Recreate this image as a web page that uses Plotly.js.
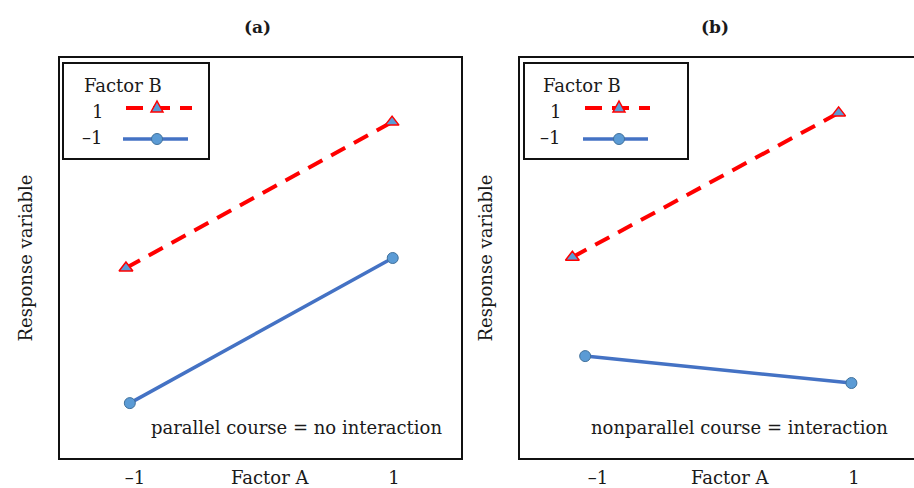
<!DOCTYPE html>
<html>
<head>
<meta charset="utf-8">
<script src="https://cdn.plot.ly/plotly-3.0.1.min.js"></script>
<style>
  html, body { margin: 0; padding: 0; background: #fff; }
  #chart { width: 914px; height: 488px; }
</style>
</head>
<body>
<div id="chart"></div>
<script>
// Levels of factor A shown on the horizontal axes
const factorALevels = [-1, 1];
const factorALabels = ['\u20131', '1'];

// Panel (a): parallel course
const aHighX = [-1.07, 0.985];
const aHighY = [47.5, 83.8];
const aLowX = [-1.04, 0.99];
const aLowY = [13.9, 50.0];

// Panel (b): nonparallel course
const bHighX = [-1.20, 0.88];
const bHighY = [50.2, 86.1];
const bLowX = [-1.10, 0.98];
const bLowY = [25.6, 18.9];

// Factor B legend entries
const legendTitle = 'Factor B';
const legendLabels = ['1', '\u20131'];

const W = 914, H = 488;
const FONT = 'DejaVu Serif, serif';
const RED = '#FF0000';
const BLUE = '#4472C4';
const MARKER_FILL = '#5B9BD5';
const INK = '#1a1a1a';

// pixel -> paper helpers (figure has zero margins)
const px = v => v / W;
const py = v => 1 - v / H;

function highTrace(x, y, xa, ya) {
  return {
    x: x, y: y, xaxis: xa, yaxis: ya, type: 'scatter', mode: 'lines+markers',
    line: { color: RED, width: 4, dash: '16px,10px' },
    marker: { symbol: 'triangle-up', size: 12, color: MARKER_FILL, line: { color: RED, width: 1.5 } },
    showlegend: false, hoverinfo: 'skip'
  };
}
function lowTrace(x, y, xa, ya) {
  return {
    x: x, y: y, xaxis: xa, yaxis: ya, type: 'scatter', mode: 'lines+markers',
    line: { color: BLUE, width: 3.5 },
    marker: { symbol: 'circle', size: 11, color: MARKER_FILL, line: { color: '#41719C', width: 1 } },
    showlegend: false, hoverinfo: 'skip'
  };
}

const data = [
  highTrace(aHighX, aHighY, 'x', 'y'),
  lowTrace(aLowX, aLowY, 'x', 'y'),
  highTrace(bHighX, bHighY, 'x2', 'y2'),
  lowTrace(bLowX, bLowY, 'x2', 'y2')
];

const yDomain = [29 / H, 431 / H];

function xAxis(domain, range) {
  return {
    domain: domain, range: range, showgrid: false, zeroline: false, showline: false,
    ticks: '', tickmode: 'array', tickvals: factorALevels, ticktext: factorALabels,
    tickfont: { family: FONT, size: 18, color: INK }, ticklabelstandoff: 6,
    fixedrange: true
  };
}
function yAxis(anchor, title) {
  return {
    domain: yDomain, range: [0, 100], anchor: anchor, showgrid: false, zeroline: false,
    showline: false, showticklabels: false, ticks: '', fixedrange: true,
    title: { text: title, font: { family: FONT, size: 18, color: INK }, standoff: 20 }
  };
}

// Hand-built Factor B legend: box, dashed/solid keys with their markers
function legendShapes(box, redLine, blueLine, keyX) {
  return [
    { type: 'rect', xref: 'paper', yref: 'paper', x0: px(box[0]), x1: px(box[1]), y0: py(box[2]), y1: py(box[3]),
      line: { color: '#111', width: 2 }, fillcolor: 'rgba(0,0,0,0)' },
    { type: 'line', xref: 'paper', yref: 'paper', x0: px(redLine[0]), x1: px(redLine[1]), y0: py(108), y1: py(108),
      line: { color: RED, width: 4, dash: '17px,10px' } },
    { type: 'path', xref: 'paper', yref: 'paper',
      path: `M ${px(keyX - 6)} ${py(112)} L ${px(keyX + 6)} ${py(112)} L ${px(keyX)} ${py(101)} Z`,
      fillcolor: MARKER_FILL, line: { color: RED, width: 1.5 } },
    { type: 'line', xref: 'paper', yref: 'paper', x0: px(blueLine[0]), x1: px(blueLine[1]), y0: py(139), y1: py(139),
      line: { color: BLUE, width: 3.5 } },
    { type: 'circle', xref: 'paper', yref: 'paper',
      x0: px(keyX - 5.5), x1: px(keyX + 5.5), y0: py(139 + 5.5), y1: py(139 - 5.5),
      fillcolor: MARKER_FILL, line: { color: '#41719C', width: 1 } }
  ];
}

// Frames around each panel (the right panel runs past the page edge)
const shapes = [
  { type: 'rect', xref: 'x domain', yref: 'y domain', x0: 0, x1: 1, y0: 0, y1: 1,
    line: { color: '#111', width: 2 }, fillcolor: 'rgba(0,0,0,0)', layer: 'above' },
  { type: 'rect', xref: 'x2 domain', yref: 'y2 domain', x0: 0, x1: 1.05, y0: 0, y1: 1,
    line: { color: '#111', width: 2 }, fillcolor: 'rgba(0,0,0,0)', layer: 'above' }
].concat(
  legendShapes([63, 209, 63, 159], [126, 192], [123, 188], 157),
  legendShapes([524, 688, 63, 159], [585, 650], [583, 648], 619)
);

function txt(text, x, y, size, opts) {
  return Object.assign({
    text: text, xref: 'paper', yref: 'paper', x: px(x), y: py(y),
    showarrow: false, font: { family: FONT, size: size, color: INK },
    xanchor: 'center', yanchor: 'middle'
  }, opts || {});
}

const annotations = [
  txt('<b>(a)</b>', 257, 27, 17),
  txt('<b>(b)</b>', 715, 27, 17),
  txt('Factor A', 270, 477, 18),
  txt('Factor A', 730, 477, 18),
  txt('parallel course = no interaction', 444, 427, 18, { xanchor: 'right' }),
  txt('nonparallel course = interaction', 890, 427, 18, { xanchor: 'right' }),
  txt(legendTitle, 82, 85, 18, { xanchor: 'left' }),
  txt(legendLabels[0], 97, 111, 18),
  txt(legendLabels[1], 92, 137, 18),
  txt(legendTitle, 541, 85, 18, { xanchor: 'left' }),
  txt(legendLabels[0], 555, 111, 18),
  txt(legendLabels[1], 550, 137, 18)
];

const layout = {
  width: W, height: H,
  margin: { l: 0, r: 0, t: 0, b: 0 },
  paper_bgcolor: '#fff', plot_bgcolor: '#fff',
  showlegend: false,
  xaxis: xAxis([59 / W, 462 / W], [-1.587, 1.525]),
  yaxis: yAxis('x', 'Response variable'),
  xaxis2: xAxis([519 / W, 1], [-1.617, 1.469]),
  yaxis2: yAxis('x2', 'Response variable'),
  shapes: shapes,
  annotations: annotations
};

Plotly.newPlot('chart', data, layout, { displayModeBar: false, staticPlot: true });
</script>
</body>
</html>
